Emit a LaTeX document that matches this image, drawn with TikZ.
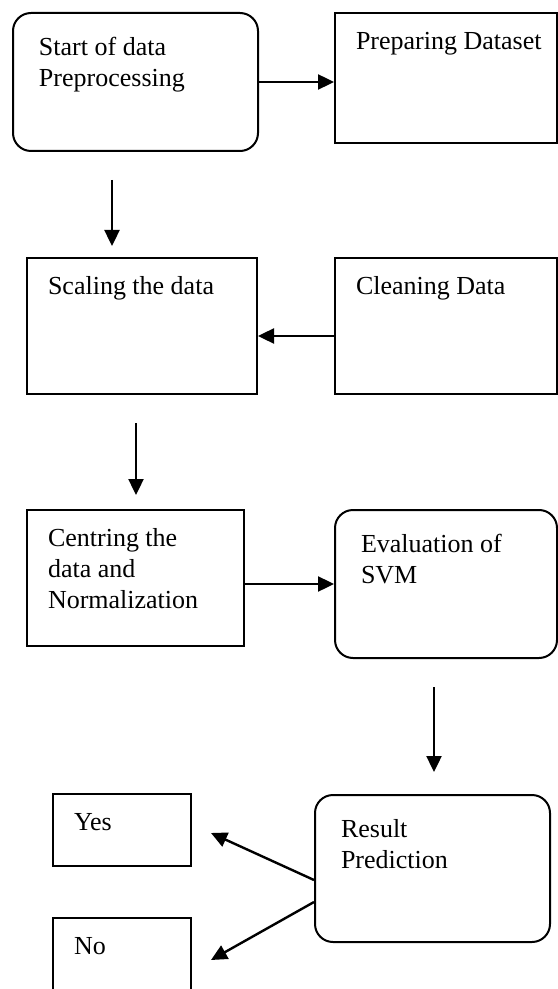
\documentclass[tikz,border=0pt]{standalone}
\usepackage{fontspec}
\setmainfont{Liberation Serif}
\usetikzlibrary{arrows.meta}
\newcommand{\rtxt}[3]{\parbox[c][#2][t]{#1}{\raggedright\leftskip=13pt\vspace*{10.2pt}\strut#3}}
\newcommand{\stxt}[3]{\parbox[c][#2][t]{#1}{\raggedright\leftskip=10.5pt\vspace*{7.2pt}\strut#3}}

\begin{document}
\begin{tikzpicture}[
      x=0.5pt, y=-0.5pt,
      font=\fontsize{13}{15.5}\selectfont,
      rbox/.style={draw, line width=1pt, rounded corners=9pt,
                   inner sep=0pt, anchor=north west},
      sbox/.style={draw, line width=1pt, inner sep=0pt, anchor=north west},
      arr/.style={-{Triangle[length=8pt,width=7.5pt]}, line width=1.2pt}
    ]
    \useasboundingbox (0,0) rectangle (557,989);

    % first row
    \node[rbox] (start) at (12,12)
      {\rtxt{122.5pt}{69pt}{Start of data\\Preprocessing}};
    \node[sbox] (prep) at (334,12)
      {\stxt{111pt}{65pt}{Preparing Dataset}};
    \draw[arr] (start.east) -- (start.east -| prep.west);

    % second row
    \node[sbox] (scal) at (26,257)
      {\stxt{115pt}{68pt}{Scaling the data}};
    \node[sbox] (clean) at (334,257)
      {\stxt{111pt}{68pt}{Cleaning Data}};
    \draw[arr] ([yshift=-5pt]clean.west) -- ([yshift=-5pt]clean.west -| scal.east);

    \coordinate (d1a) at (112,180);
    \coordinate (d1b) at (112,246);
    \draw[arr] (d1a) -- (d1b);

    % third row
    \node[sbox] (cent) at (26,509)
      {\stxt{108.5pt}{68pt}{Centring the\\data and\\Normalization}};
    \node[rbox] (eval) at (334,509)
      {\rtxt{111pt}{74pt}{Evaluation of\\SVM}};
    \draw[arr] (cent.east |- eval.west) -- (eval.west);

    \coordinate (d2a) at (136,423);
    \coordinate (d2b) at (136,495);
    \draw[arr] (d2a) -- (d2b);

    % result and answers
    \node[rbox] (res) at (314,794)
      {\rtxt{117.5pt}{73.5pt}{Result\\Prediction}};
    \node[sbox] (yes) at (52,793)
      {\stxt{69pt}{36pt}{Yes}};
    \node[sbox] (no) at (52,917)
      {\stxt{69pt}{45pt}{No}};

    \coordinate (d3a) at (434,687);
    \coordinate (d3b) at (434,772);
    \draw[arr] (d3a) -- (d3b);

    \coordinate (yesend) at (211,833);
    \coordinate (noend) at (211,960);
    \draw[arr] ([yshift=-5.75pt]res.west) -- (yesend);
    \draw[arr] ([yshift=-16.75pt]res.west) -- (noend);
  \end{tikzpicture}
\end{document}
